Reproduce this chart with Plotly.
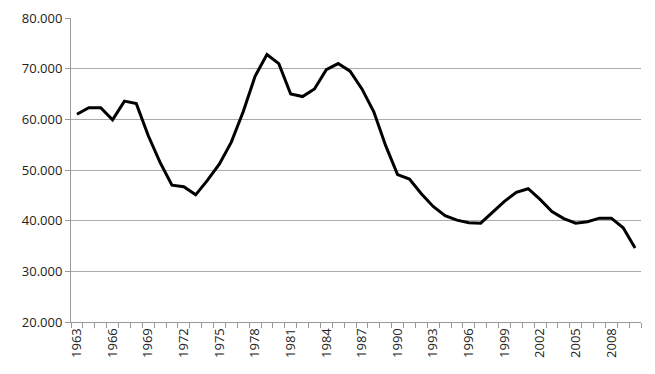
import plotly.graph_objects as go

years = list(range(1963, 2011))
values = [61.0, 62.3, 62.3, 59.9, 63.6, 63.1, 56.8, 51.5, 47.0, 46.7,
          45.1, 48.0, 51.2, 55.5, 61.5, 68.5, 72.8, 71.0, 65.0, 64.5,
          66.0, 69.8, 71.0, 69.5, 66.0, 61.5, 54.8, 49.1, 48.2, 45.3,
          42.8, 41.0, 40.1, 39.6, 39.5, 41.6, 43.8, 45.6, 46.3, 44.2,
          41.8, 40.4, 39.5, 39.8, 40.5, 40.5, 38.6, 34.6]
x_tick_years = list(range(1963, 2010, 3))
y_ticks = [20, 30, 40, 50, 60, 70, 80]
y_tick_text = ["20.000", "30.000", "40.000", "50.000", "60.000", "70.000", "80.000"]

fig = go.Figure()
fig.add_trace(go.Scatter(x=years, y=values, mode="lines",
                         line=dict(color="black", width=3)))

# page body adds an 8px offset; margins compensate
fig.update_layout(
    width=655, height=374,
    margin=dict(l=63, r=22, t=10, b=60),
    paper_bgcolor="white", plot_bgcolor="white",
    showlegend=False,
    font=dict(family="Open Sans, Liberation Sans, Arial, sans-serif", size=13, color="#222"),
)
fig.update_xaxes(
    range=[1962.5, 2010.5], automargin=False,
    tickvals=x_tick_years, ticktext=[str(y) for y in x_tick_years],
    tickangle=-90, ticks="", showgrid=False,
    showline=True, linecolor="#999", linewidth=1,
    minor=dict(tick0=1962.5, dtick=1, ticks="outside", ticklen=5, tickcolor="#999", showgrid=False),
    tickfont=dict(size=13),
)
fig.update_yaxes(
    range=[20, 80], automargin=False,
    tickvals=y_ticks, ticktext=y_tick_text,
    ticks="outside", ticklen=5, tickcolor="#999",
    showgrid=True, gridcolor="#aaa", gridwidth=1,
    showline=True, linecolor="#999", linewidth=1,
    zeroline=False, tickfont=dict(size=13),
)
fig.write_html("out.html")
